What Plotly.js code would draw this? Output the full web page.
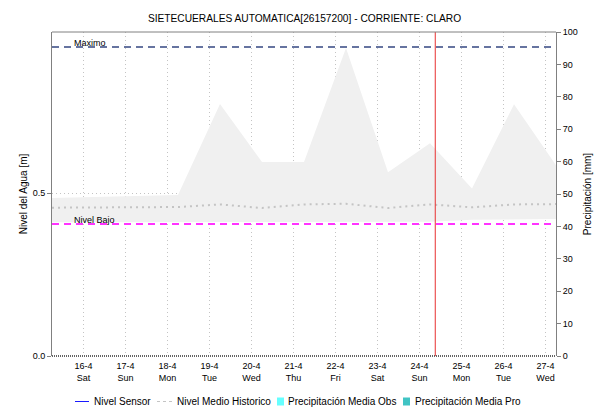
<!DOCTYPE html>
<html>
<head>
<meta charset="utf-8">
<script src="https://cdn.plot.ly/plotly-3.0.1.min.js"></script>
<style>html,body{margin:0;padding:0;background:#fff;}#chart{width:603px;height:412px;}</style>
</head>
<body>
<div id="chart"></div>
<script>
// ---- data ----
const bandTimes = ['2022-04-15 06:00','2022-04-16 06:00','2022-04-17 06:00','2022-04-18 06:00','2022-04-19 06:00','2022-04-20 06:00','2022-04-21 06:00','2022-04-22 06:00','2022-04-23 06:00','2022-04-24 06:00','2022-04-25 06:00','2022-04-26 06:00','2022-04-27 06:00'];
const bandUpper = [0.485,0.488,0.491,0.494,0.773,0.595,0.595,0.945,0.564,0.653,0.514,0.772,0.585];
const bandLower = [0.410,0.410,0.410,0.410,0.410,0.410,0.410,0.410,0.410,0.412,0.418,0.420,0.420];
const medioHistorico = [0.455,0.455,0.455,0.457,0.465,0.454,0.465,0.467,0.454,0.465,0.456,0.465,0.466];
const sensorTimes = [];
const sensorLevel = [];
const precipObs = [];
const precipPro = [];
const tickDates = ['2022-04-16','2022-04-17','2022-04-18','2022-04-19','2022-04-20','2022-04-21','2022-04-22','2022-04-23','2022-04-24','2022-04-25','2022-04-26','2022-04-27'];
const tickLabels = ['16-4<br>Sat','17-4<br>Sun','18-4<br>Mon','19-4<br>Tue','20-4<br>Wed','21-4<br>Thu','22-4<br>Fri','23-4<br>Sat','24-4<br>Sun','25-4<br>Mon','26-4<br>Tue','27-4<br>Wed'];
const xRange = ['2022-04-15 06:00','2022-04-27 06:00'];
const nivelMaximo = 0.948;
const nivelBajo = 0.405;
const nowTime = '2022-04-24 09:00';
const seriesNames = ['Nivel Sensor','Nivel Medio Historico','Precipitación Media Obs','Precipitación Media Pro'];

const font = 'Liberation Sans, Arial, sans-serif';
const colSensor = '#1a1aff', colMedio = '#c4c4c4', colObs = '#66ffff', colPro = '#40c4c4';

const traces = [
  {x: bandTimes, y: bandLower, type:'scatter', mode:'lines', line:{width:0, color:'rgba(0,0,0,0)'}, showlegend:false, hoverinfo:'skip'},
  {x: bandTimes, y: bandUpper, type:'scatter', mode:'lines', fill:'tonexty', fillcolor:'#f0f0f0', line:{width:0, color:'rgba(0,0,0,0)'}, showlegend:false, hoverinfo:'skip'},
  {x: sensorTimes, y: sensorLevel, type:'scatter', mode:'lines', name:seriesNames[0], line:{color:colSensor, width:1}, showlegend:false},
  {x: bandTimes, y: medioHistorico, type:'scatter', mode:'lines', name:seriesNames[1], line:{color:colMedio, width:2, dash:'2px,4px'}, showlegend:false},
  {x: sensorTimes, y: precipObs, type:'bar', yaxis:'y2', name:seriesNames[2], marker:{color:colObs}, showlegend:false},
  {x: sensorTimes, y: precipPro, type:'bar', yaxis:'y2', name:seriesNames[3], marker:{color:colPro}, showlegend:false}
];

// manual legend (pixel layout converted to paper coords)
const L = 52, R = 556, T = 32, B = 356;
const px = v => (v - L) / (R - L);
const py = v => (B - v) / (B - T);
const legY = 401.5;
const legendShapes = [
  {type:'line', xref:'paper', yref:'paper', x0:px(75), x1:px(89), y0:py(legY), y1:py(legY), line:{color:colSensor, width:1}},
  {type:'line', xref:'paper', yref:'paper', x0:px(157), x1:px(172), y0:py(legY), y1:py(legY), line:{color:colMedio, width:1, dash:'3px,3px'}},
  {type:'rect', xref:'paper', yref:'paper', x0:px(277), x1:px(284), y0:py(legY+4), y1:py(legY-4), fillcolor:colObs, line:{width:0}},
  {type:'rect', xref:'paper', yref:'paper', x0:px(403), x1:px(410), y0:py(legY+4), y1:py(legY-4), fillcolor:colPro, line:{width:0}}
];
const legTextX = [92, 175, 286, 413];
const legendAnn = seriesNames.map((n, i) => ({xref:'paper', yref:'paper', x:px(legTextX[i]), y:py(legY), text:n, showarrow:false, xanchor:'left', yanchor:'middle', font:{family:font, size:10, color:'#000'}}));

const layout = {
  width: 603, height: 412,
  margin: {l:L, r:603-R, t:T, b:412-B, pad:0},
  paper_bgcolor:'#fff', plot_bgcolor:'#fff',
  font: {family: font, size: 9, color:'#000'},
  title: {text:'SIETECUERALES AUTOMATICA[26157200] - CORRIENTE: CLARO', font:{family:font, size:10.2, color:'#000'}, x:0.505, xanchor:'center', y:0.955, yanchor:'middle'},
  showlegend: false,
  xaxis: {type:'date', range:xRange, tickmode:'array', tickvals:tickDates, ticktext:tickLabels, showgrid:true, gridcolor:'#c4c4c4', griddash:'1px,3px', gridwidth:1, showline:false, zeroline:false, ticks:'', ticklabelstandoff:3, tickfont:{family:font, size:9}, fixedrange:true, automargin:false},
  yaxis: {range:[0, 0.9939], tickmode:'array', tickvals:[0,0.5], ticktext:['0.0','0.5'], showgrid:true, gridcolor:'#c4c4c4', griddash:'1px,3px', showline:true, linecolor:'#808080', linewidth:1, ticks:'outside', ticklen:4, tickcolor:'#808080', zeroline:false, tickfont:{family:font, size:9}, automargin:false,
    title:{text:'Nivel del Agua [m]', font:{family:font, size:10}, standoff:3}},
  yaxis2: {range:[0,100], overlaying:'y', side:'right', dtick:10, tick0:0, showgrid:false, showline:true, linecolor:'#808080', linewidth:1, ticks:'outside', ticklen:4, tickcolor:'#808080', zeroline:false, tickfont:{family:font, size:9}, automargin:false,
    title:{text:'Precipitación [mm]', font:{family:font, size:10}, standoff:7}},
  shapes: [
    {type:'line', xref:'paper', yref:'y', x0:0, x1:1, y0:nivelMaximo, y1:nivelMaximo, line:{color:'#6674a0', width:2, dash:'7px,5px'}},
    {type:'line', xref:'paper', yref:'y', x0:0, x1:1, y0:nivelBajo, y1:nivelBajo, line:{color:'#ff33ff', width:2, dash:'7px,5px'}},
    {type:'line', xref:'x', yref:'paper', x0:nowTime, x1:nowTime, y0:0, y1:1, line:{color:'#e83030', width:1}},
    {type:'line', xref:'paper', yref:'paper', x0:0, x1:1, y0:1, y1:1, line:{color:'#808080', width:1}},
    {type:'line', xref:'paper', yref:'paper', x0:0, x1:1, y0:0, y1:0, line:{color:'#303030', width:1.5, dash:'1px,1px'}}
  ].concat(legendShapes),
  annotations: [
    {xref:'paper', yref:'y', x:px(72), y:nivelMaximo, text:'Maximo', showarrow:false, xanchor:'left', yanchor:'bottom', yshift:-3, font:{family:font, size:9, color:'#000'}},
    {xref:'paper', yref:'y', x:px(72), y:nivelBajo, text:'Nivel Bajo', showarrow:false, xanchor:'left', yanchor:'bottom', yshift:-3, font:{family:font, size:9, color:'#000'}}
  ].concat(legendAnn)
};

Plotly.newPlot('chart', traces, layout, {displayModeBar:false, staticPlot:true});
</script>
</body>
</html>
